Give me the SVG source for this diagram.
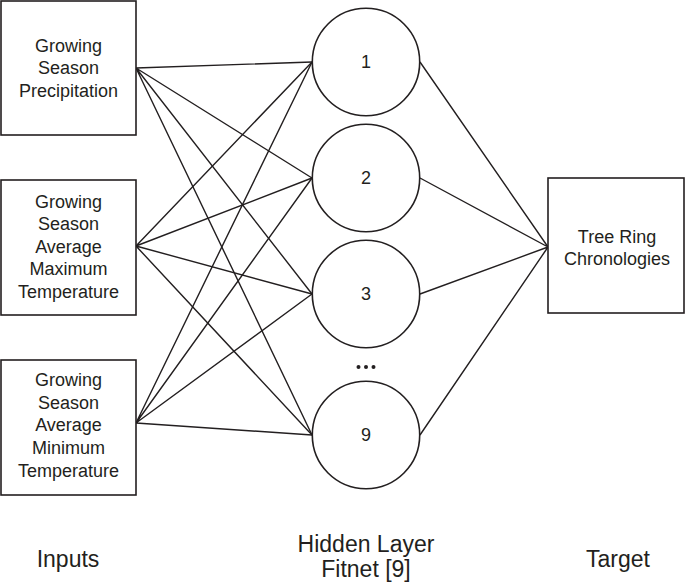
<svg xmlns="http://www.w3.org/2000/svg" width="685" height="584" viewBox="0 0 685 584">
<style>
.box{fill:#fff;stroke:#231f20;stroke-width:1.6}
.node{fill:#fff;stroke:#231f20;stroke-width:1.6}
.edge{stroke:#231f20;stroke-width:1.4;fill:none}
text{font-family:"Liberation Sans",Arial,sans-serif;fill:#231f20;text-anchor:middle}
.t{font-size:18px}
.lbl{font-size:23px}
</style>
<rect width="685" height="584" fill="#fff"/>
<g id="connectors">
<path class="edge" d="M136,68L312,62M136,68L312,178M136,68L312,294M136,68L312,435"/>
<path class="edge" d="M136,246L312,62M136,246L312,178M136,246L312,294M136,246L312,435"/>
<path class="edge" d="M136,423L312,62M136,423L312,178M136,423L312,294M136,423L312,435"/>
<path class="edge" d="M420,62L548,247M420,178L548,247M420,294L548,247M420,435L548,247"/>
</g>
<g id="input1">
<rect class="box" x="1" y="1" width="135" height="134"/>
<text class="t" x="68.5" y="51.5">Growing</text>
<text class="t" x="68.5" y="74">Season</text>
<text class="t" x="68.5" y="96.5">Precipitation</text>
</g>
<g id="input2">
<rect class="box" x="1" y="180" width="135" height="135"/>
<text class="t" x="68.5" y="207.5">Growing</text>
<text class="t" x="68.5" y="230">Season</text>
<text class="t" x="68.5" y="252.5">Average</text>
<text class="t" x="68.5" y="275">Maximum</text>
<text class="t" x="68.5" y="297.5">Temperature</text>
</g>
<g id="input3">
<rect class="box" x="1" y="360" width="135" height="135"/>
<text class="t" x="68.5" y="386">Growing</text>
<text class="t" x="68.5" y="408.5">Season</text>
<text class="t" x="68.5" y="431">Average</text>
<text class="t" x="68.5" y="453.5">Minimum</text>
<text class="t" x="68.5" y="476.5">Temperature</text>
</g>
<g id="hidden1">
<circle class="node" cx="366" cy="62" r="53.7"/>
<text class="t" x="366" y="68">1</text>
</g>
<g id="hidden2">
<circle class="node" cx="366" cy="178" r="53.7"/>
<text class="t" x="366" y="184">2</text>
</g>
<g id="hidden3">
<circle class="node" cx="366" cy="294" r="53.7"/>
<text class="t" x="366" y="300">3</text>
</g>
<g id="ellipsis">
<circle cx="358.5" cy="367" r="2" fill="#231f20"/>
<circle cx="366" cy="367" r="2" fill="#231f20"/>
<circle cx="373.5" cy="367" r="2" fill="#231f20"/>
</g>
<g id="hidden9">
<circle class="node" cx="366" cy="435" r="53.7"/>
<text class="t" x="366" y="441">9</text>
</g>
<g id="target">
<rect class="box" x="548" y="178" width="136" height="135"/>
<text class="t" x="617" y="242.5">Tree Ring</text>
<text class="t" x="617" y="265">Chronologies</text>
</g>
<g id="labels">
<text class="lbl" x="68" y="566.5">Inputs</text>
<text class="lbl" x="366" y="551.5">Hidden Layer</text>
<text class="lbl" x="366" y="577">Fitnet [9]</text>
<text class="lbl" x="618" y="566.5">Target</text>
</g>
</svg>
